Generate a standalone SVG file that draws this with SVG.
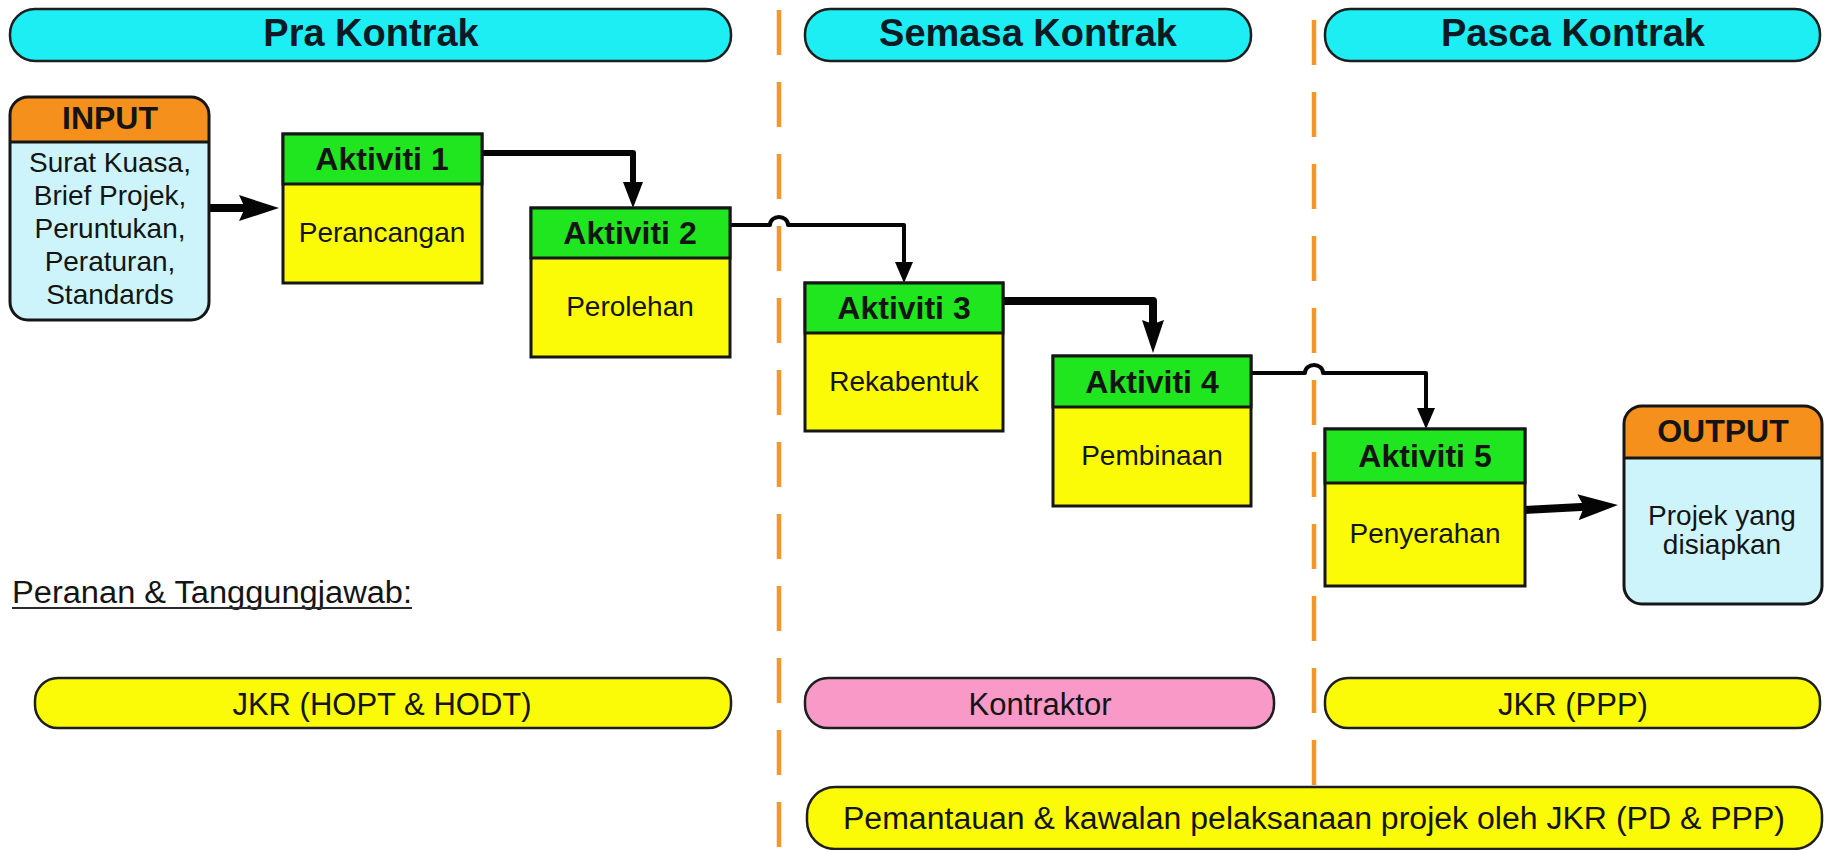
<svg xmlns="http://www.w3.org/2000/svg" width="1829" height="850" viewBox="0 0 1829 850">
  <style>
    text { font-family: "Liberation Sans", Arial, sans-serif; fill: #141414; text-anchor: middle; }
    .phase { font-size: 38px; font-weight: bold; fill: #0d1a24; }
    .head { font-size: 32px; font-weight: bold; }
    .body { font-size: 28px; }
    .role { font-size: 31px; }
    .pill { stroke: #1e1e1e; stroke-width: 2.5; }
    .cyan { fill: #1deef4; }
    .yellow { fill: #fbfb08; }
    .pink { fill: #f899c8; }
    .green { fill: #1fe61f; }
    .orange { fill: #f6901c; }
    .lightblue { fill: #cdf4fa; }
    .box { stroke: #161616; stroke-width: 3; }
    .sep { stroke: #161616; stroke-width: 3; fill: none; }
    .divider { stroke: #f4962a; stroke-width: 4.5; stroke-dasharray: 45 27; fill: none; }
    .conn { stroke: #050505; fill: none; stroke-linejoin: round; }
  </style>
  <defs>
    <marker id="head-thin" viewBox="0 0 21 18" refX="11" refY="9" markerWidth="21" markerHeight="18" markerUnits="userSpaceOnUse" orient="auto">
      <path d="M0,0 L21,9 L0,18 Z" fill="#050505"/>
    </marker>
    <marker id="head-mid" viewBox="0 0 26 20" refX="14" refY="10" markerWidth="26" markerHeight="20" markerUnits="userSpaceOnUse" orient="auto">
      <path d="M0,0 L26,10 L0,20 Z" fill="#050505"/>
    </marker>
    <marker id="head-thick" viewBox="0 0 33 22" refX="18" refY="11" markerWidth="33" markerHeight="22" markerUnits="userSpaceOnUse" orient="auto">
      <path d="M0,0 L33,11 L0,22 L4,11 Z" fill="#050505"/>
    </marker>
    <marker id="head-big" viewBox="0 0 40 26" refX="22" refY="13" markerWidth="40" markerHeight="26" markerUnits="userSpaceOnUse" orient="auto">
      <path d="M0,0 L40,13 L0,26 L6,13 Z" fill="#050505"/>
    </marker>
  </defs>

  <!-- phase dividers -->
  <g id="dividers">
    <line class="divider" x1="779" y1="10" x2="779" y2="850"/>
    <line class="divider" x1="1314" y1="20" x2="1314" y2="788"/>
  </g>

  <!-- phase headings -->
  <g id="phase-pra">
    <rect class="pill cyan" x="10" y="9" width="721" height="52" rx="25"/>
    <text class="phase" x="371" y="46">Pra Kontrak</text>
  </g>
  <g id="phase-semasa">
    <rect class="pill cyan" x="805" y="9" width="446" height="52" rx="25"/>
    <text class="phase" x="1028" y="46">Semasa Kontrak</text>
  </g>
  <g id="phase-pasca">
    <rect class="pill cyan" x="1325" y="9" width="495" height="52" rx="25"/>
    <text class="phase" x="1573" y="46">Pasca Kontrak</text>
  </g>

  <!-- connectors -->
  <g id="connectors">
    <path class="conn" stroke-width="8" stroke-linecap="round" d="M204,208 H261" marker-end="url(#head-big)"/>
    <path class="conn" stroke-width="6" d="M482,153 H633 V196" marker-end="url(#head-mid)"/>
    <path class="conn" stroke-width="4" d="M731,225 H770 A9,8 0 0 1 788,225 H904 V273" marker-end="url(#head-thin)"/>
    <path class="conn" stroke-width="8" d="M1003,301 H1153 V338" marker-end="url(#head-thick)"/>
    <path class="conn" stroke-width="4" d="M1251,373 H1305 A9,8 0 0 1 1323,373 H1426 V419" marker-end="url(#head-thin)"/>
    <path class="conn" stroke-width="8" stroke-linecap="round" d="M1524,510 L1600,506" marker-end="url(#head-big)"/>
  </g>

  <!-- input -->
  <g id="input">
    <rect class="lightblue" x="10" y="97" width="199" height="223" rx="18"/>
    <path class="orange" d="M10,142 V115 Q10,97 28,97 H191 Q209,97 209,115 V142 Z"/>
    <line class="sep" x1="10" y1="142" x2="209" y2="142"/>
    <rect class="box" x="10" y="97" width="199" height="223" rx="18" fill="none"/>
    <text class="head" x="110" y="129">INPUT</text>
    <text class="body" x="110" y="172">Surat Kuasa,</text>
    <text class="body" x="110" y="205">Brief Projek,</text>
    <text class="body" x="110" y="238">Peruntukan,</text>
    <text class="body" x="110" y="271">Peraturan,</text>
    <text class="body" x="110" y="304">Standards</text>
  </g>

  <!-- activities -->
  <g id="aktiviti-1">
    <rect class="box yellow" x="283" y="134" width="199" height="149"/>
    <rect class="box green" x="283" y="134" width="199" height="50"/>
    <text class="head" x="382" y="170">Aktiviti 1</text>
    <text class="body" x="382" y="242">Perancangan</text>
  </g>
  <g id="aktiviti-2">
    <rect class="box yellow" x="531" y="208" width="199" height="149"/>
    <rect class="box green" x="531" y="208" width="199" height="50"/>
    <text class="head" x="630" y="244">Aktiviti 2</text>
    <text class="body" x="630" y="316">Perolehan</text>
  </g>
  <g id="aktiviti-3">
    <rect class="box yellow" x="805" y="283" width="198" height="148"/>
    <rect class="box green" x="805" y="283" width="198" height="50"/>
    <text class="head" x="904" y="319">Aktiviti 3</text>
    <text class="body" x="904" y="391">Rekabentuk</text>
  </g>
  <g id="aktiviti-4">
    <rect class="box yellow" x="1053" y="356" width="198" height="150"/>
    <rect class="box green" x="1053" y="356" width="198" height="51"/>
    <text class="head" x="1152" y="393">Aktiviti 4</text>
    <text class="body" x="1152" y="465">Pembinaan</text>
  </g>
  <g id="aktiviti-5">
    <rect class="box yellow" x="1325" y="429" width="200" height="157"/>
    <rect class="box green" x="1325" y="429" width="200" height="54"/>
    <text class="head" x="1425" y="467">Aktiviti 5</text>
    <text class="body" x="1425" y="543">Penyerahan</text>
  </g>

  <!-- output -->
  <g id="output">
    <rect class="lightblue" x="1624" y="406" width="198" height="198" rx="18"/>
    <path class="orange" d="M1624,458 V424 Q1624,406 1642,406 H1804 Q1822,406 1822,424 V458 Z"/>
    <line class="sep" x1="1624" y1="458" x2="1822" y2="458"/>
    <rect class="box" x="1624" y="406" width="198" height="198" rx="18" fill="none"/>
    <text class="head" x="1723" y="442">OUTPUT</text>
    <text class="body" x="1722" y="525">Projek yang</text>
    <text class="body" x="1722" y="554">disiapkan</text>
  </g>

  <!-- roles -->
  <g id="roles-title">
    <text class="role" x="12" y="603" style="text-anchor:start" font-size="32" textLength="400" lengthAdjust="spacingAndGlyphs">Peranan &amp; Tanggungjawab:</text>
    <line x1="12" y1="608" x2="412" y2="608" stroke="#2a2a2a" stroke-width="2"/>
  </g>
  <g id="role-jkr-hopt">
    <rect class="pill yellow" x="35" y="678" width="696" height="50" rx="23"/>
    <text class="role" x="382" y="715">JKR (HOPT &amp; HODT)</text>
  </g>
  <g id="role-kontraktor">
    <rect class="pill pink" x="805" y="678" width="469" height="50" rx="23"/>
    <text class="role" x="1040" y="715">Kontraktor</text>
  </g>
  <g id="role-jkr-ppp">
    <rect class="pill yellow" x="1325" y="678" width="495" height="50" rx="23"/>
    <text class="role" x="1573" y="715">JKR (PPP)</text>
  </g>
  <g id="role-pemantauan">
    <rect class="pill yellow" x="807" y="787" width="1015" height="62" rx="28"/>
    <text class="role" x="1314" y="829" font-size="33" textLength="942" lengthAdjust="spacingAndGlyphs">Pemantauan &amp; kawalan pelaksanaan projek oleh JKR (PD &amp; PPP)</text>
  </g>
</svg>
